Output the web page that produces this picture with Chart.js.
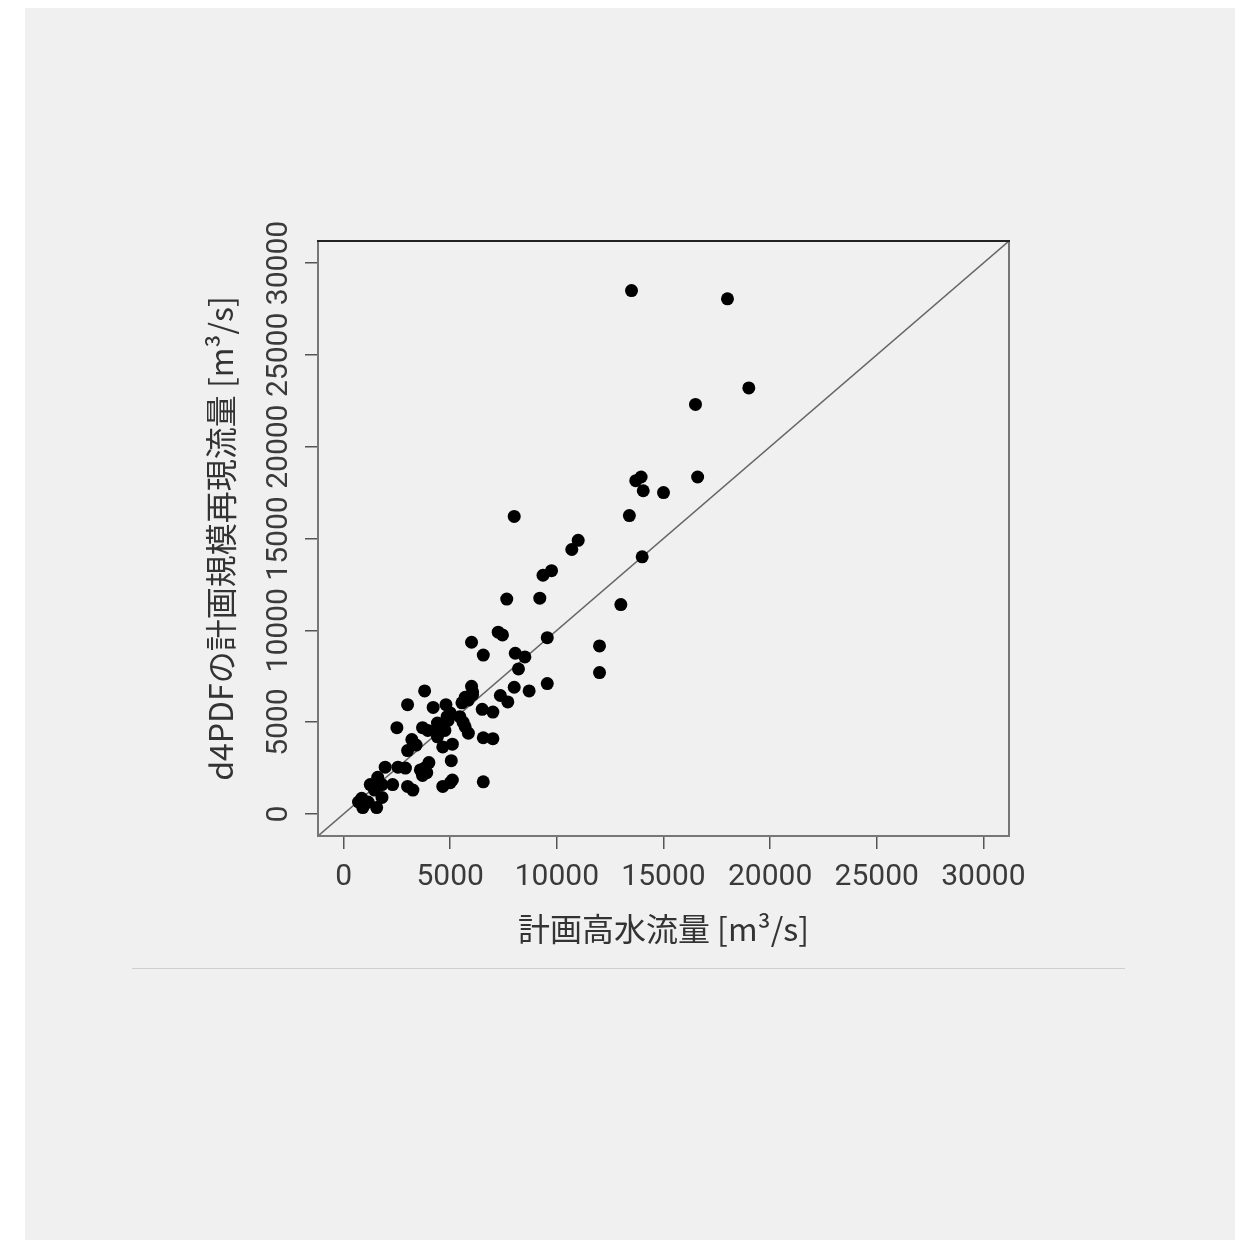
<!DOCTYPE html>
<html>
<head>
<meta charset="utf-8">
<script src="https://cdn.jsdelivr.net/npm/chart.js@4"></script>
<style>
  body { margin: 0; background: #ffffff; }
  #bg { position: absolute; left: 25px; top: 8px; width: 1210px; height: 1232px; background: #f0f0f0; }
  #rule { position: absolute; left: 132px; top: 968px; width: 993px; height: 0; border-top: 1px solid #cfcfcf; }
  #wrap { position: absolute; left: 0; top: 0; width: 1243px; height: 1243px; }
</style>
</head>
<body>
<div id="bg"></div>
<div id="rule"></div>
<div id="wrap"><canvas id="ScatterChart"></canvas></div>
<script>
// 計画高水流量 (x) と d4PDF の計画規模再現流量 (y), m3/s
const planFlow = [13500, 18000, 19000, 16500, 16600, 13700, 13950, 14050, 15000, 13400,
  8000, 11000, 10700, 14000, 9750, 9350, 7650, 9200, 13000, 7250,
  7450, 6000, 9550, 12000, 6550, 8050, 8500, 8200, 12000, 6000,
  6050, 8000, 8700, 9550, 3800, 7350, 7700, 3000, 4200, 4800,
  5700, 6050, 5550, 5850, 6500, 7000, 2500, 3700, 3950, 4400,
  4300, 4600, 4750, 4400, 5000, 4850, 4900, 5450, 5600, 5700,
  5850, 3200, 3400, 3000, 4650, 5100, 6550, 7000, 5050, 1950,
  2550, 2900, 3600, 3800, 4000, 3700, 3900, 4650, 5100, 5000,
  6550, 3000, 3250, 2300, 1600, 1250, 1450, 1800, 1800, 850,
  1000, 900, 1550, 1150, 700];
const d4pdfFlow = [28500, 28050, 23200, 22300, 18350, 18150, 18350, 17600, 17500, 16250,
  16200, 14900, 14400, 14000, 13250, 13000, 11700, 11750, 11400, 9900,
  9750, 9350, 9600, 9150, 8650, 8750, 8550, 7900, 7700, 6950,
  6650, 6900, 6700, 7100, 6700, 6450, 6100, 5950, 5800, 5950,
  6350, 6500, 6050, 6200, 5700, 5550, 4700, 4700, 4550, 4950,
  4550, 4750, 4550, 4200, 5500, 5300, 5100, 5300, 5000, 4750,
  4400, 4050, 3750, 3450, 3650, 3800, 4150, 4100, 2900, 2550,
  2550, 2500, 2400, 2500, 2800, 2100, 2250, 1500, 1850, 1700,
  1750, 1500, 1300, 1600, 2000, 1600, 1300, 1600, 900, 850,
  550, 350, 350, 650, 650];
const tickValues = [0, 5000, 10000, 15000, 20000, 25000, 30000];
const axisMin = -1200, axisMax = 31200;  // R の 4% 拡張

const points = planFlow.map((x, i) => ({ x: x, y: d4pdfFlow[i] }));

const tickFont = { family: "Roboto, 'Liberation Sans', sans-serif", size: 30 };
const titleFont = { family: "'Noto Sans CJK JP', sans-serif", size: 32 };

const frame = {
  id: 'frame',
  afterDatasetsDraw(chart) {
    const a = chart.chartArea, c = chart.ctx;
    c.save();
    c.strokeStyle = '#777';
    c.lineWidth = 2;
    c.strokeRect(a.left, a.top, a.right - a.left, a.bottom - a.top);
    c.strokeStyle = '#222';
    c.beginPath(); c.moveTo(a.left - 1, a.top); c.lineTo(a.right + 1, a.top); c.stroke();
    c.restore();
  }
};

const ctx = document.getElementById('ScatterChart');
new Chart(ctx, {
  type: 'scatter',
  data: {
    datasets: [{
      data: points,
      backgroundColor: '#000',
      borderWidth: 0,
      pointRadius: 6.5
    }, {
      type: 'line',
      data: [{ x: axisMin, y: axisMin }, { x: axisMax, y: axisMax }],
      borderColor: '#666',
      borderWidth: 1.5,
      pointRadius: 0
    }]
  },
  options: {
    responsive: true,
    maintainAspectRatio: false,
    animation: false,
    layout: { padding: { left: 188, right: 234, top: 241, bottom: 277 } },
    plugins: { legend: { display: false }, tooltip: { enabled: false } },
    scales: {
      x: {
        type: 'linear',
        min: axisMin, max: axisMax,
        afterBuildTicks: s => { s.ticks = tickValues.map(v => ({ value: v })); },
        afterFit: s => { s.height = 130; },
        grid: { drawOnChartArea: false, drawTicks: true, tickLength: 13, tickColor: '#555', lineWidth: 1.5 },
        border: { display: false },
        ticks: { font: tickFont, color: '#3a3a3a', padding: 10, maxRotation: 0, autoSkip: false, callback: v => String(v) },
        title: { display: true, text: '計画高水流量 [m³/s]', font: titleFont, color: '#333', padding: { top: 0, bottom: 18 } }
      },
      y: {
        type: 'linear',
        min: axisMin, max: axisMax,
        afterBuildTicks: s => { s.ticks = tickValues.map(v => ({ value: v })); },
        afterFit: s => { s.width = 130; },
        grid: { drawOnChartArea: false, drawTicks: true, tickLength: 13, tickColor: '#555', lineWidth: 1.5 },
        border: { display: false },
        ticks: { font: tickFont, color: '#3a3a3a', padding: -17, minRotation: 90, maxRotation: 90, crossAlign: 'center', autoSkip: false, callback: v => String(v) },
        title: { display: true, text: 'd4PDFの計画規模再現流量 [m³/s]', font: titleFont, color: '#333', padding: { top: 14, bottom: 0 } }
      }
    }
  },
  plugins: [frame]
});
</script>
</body>
</html>
